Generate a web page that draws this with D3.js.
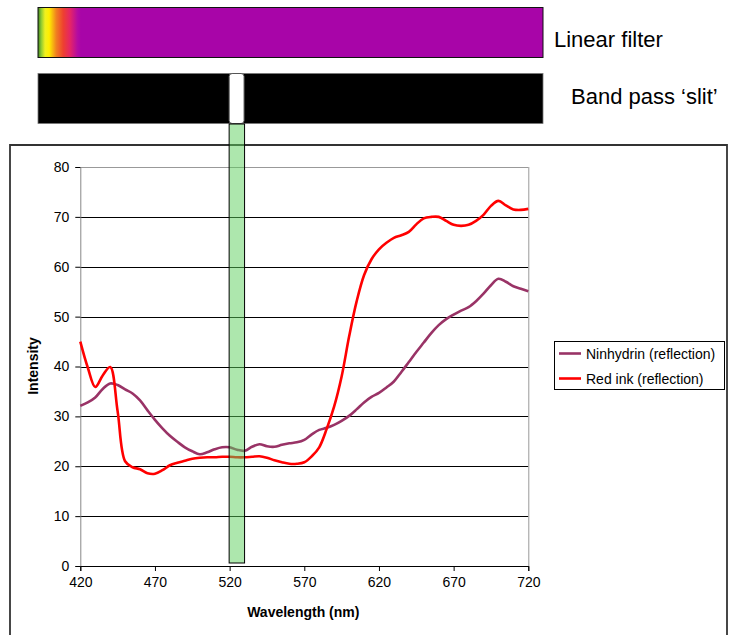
<!DOCTYPE html>
<html>
<head>
<meta charset="utf-8">
<script src="https://cdn.jsdelivr.net/npm/d3@7"></script>
<style>
  html, body { margin: 0; padding: 0; background: #fff; }
  svg { display: block; font-family: "Liberation Sans", Arial, sans-serif; }
</style>
</head>
<body>
<svg id="chart" width="746" height="635"></svg>
<script>
// ---- data ----
const wavelengths = [420,425,430,435,440,445,450,455,460,465,470,475,480,485,490,495,500,505,510,515,520,525,530,535,540,545,550,555,560,565,570,575,580,585,590,595,600,605,610,615,620,625,630,635,640,645,650,655,660,665,670,675,680,685,690,695,700,705,710,715,720];
const ninhydrin = [32.1,32.8,33.8,35.5,36.6,36.3,35.4,34.6,33.2,31.2,29.3,27.6,26.1,24.9,23.8,23.0,22.4,22.8,23.4,23.8,23.8,23.3,23.1,23.9,24.4,24.0,23.9,24.3,24.6,24.8,25.3,26.4,27.3,27.7,28.3,29.1,30.1,31.4,32.8,33.9,34.7,35.8,37.0,38.9,40.9,42.9,44.8,46.7,48.3,49.5,50.4,51.2,51.9,53.1,54.6,56.3,57.6,57.0,56.1,55.6,55.1];
const redInk = [45.0,39.8,35.9,38.2,39.9,31.0,21.0,19.8,19.4,18.6,18.5,19.2,20.2,20.7,21.1,21.5,21.7,21.8,21.8,21.9,21.9,21.8,21.8,21.9,22.0,21.7,21.2,20.8,20.5,20.5,20.8,22.0,23.8,27.5,32.0,38.0,46.0,53.0,58.3,61.5,63.5,64.8,65.8,66.3,67.0,68.5,69.7,70.0,70.0,69.2,68.4,68.2,68.4,69.2,70.4,72.2,73.2,72.3,71.5,71.4,71.6];
const seriesNames = ["Ninhydrin (reflection)", "Red ink (reflection)"];
const seriesColors = ["#993366", "#ff0000"];
const xTicks = [420,470,520,570,620,670,720];
const yTicks = [0,10,20,30,40,50,60,70,80];
const slitRange = [520, 530];   // band pass slit, nm
const filterStops = [
  [0.000, "#3f7f1f"], [0.006, "#8ac832"], [0.014, "#f0f020"], [0.022, "#ffee00"],
  [0.036, "#f08020"], [0.050, "#ee4030"], [0.064, "#e42468"], [0.078, "#b40ca0"],
  [0.085, "#a805a8"], [1.000, "#a805a8"]
];

// ---- layout ----
const svg = d3.select("#chart");
const plot = { left: 80.3, right: 528.3, top: 167, bottom: 566 };
const x = d3.scaleLinear().domain([420, 720]).range([plot.left, plot.right]);
const y = d3.scaleLinear().domain([0, 80]).range([plot.bottom, plot.top]);

// outer chart frame
svg.append("path")
  .attr("d", `M10,640 L10,145 L727,145 L727,640`)
  .attr("fill", "none").attr("stroke", "#333").attr("stroke-width", 1.8);

// linear filter bar
const defs = svg.append("defs");
const grad = defs.append("linearGradient").attr("id", "filt").attr("x1", 0).attr("x2", 1).attr("y1", 0).attr("y2", 0);
filterStops.forEach(s => grad.append("stop").attr("offset", s[0]).attr("stop-color", s[1]));
svg.append("rect").attr("x", 38).attr("y", 7.5).attr("width", 505).attr("height", 50)
  .attr("fill", "url(#filt)").attr("stroke", "#111").attr("stroke-width", 1);
svg.append("text").attr("x", 554).attr("y", 47).attr("font-size", 22).attr("fill", "#000").text("Linear filter");

// band pass slit bar
svg.append("rect").attr("x", 38).attr("y", 73.5).attr("width", 505).attr("height", 50)
  .attr("fill", "#000").attr("stroke", "#777").attr("stroke-width", 0.8);
svg.append("rect").attr("x", x(slitRange[0]) - 0.5).attr("y", 73.5)
  .attr("width", x(slitRange[1]) - x(slitRange[0])).attr("height", 50).attr("rx", 3)
  .attr("fill", "#fff").attr("stroke", "#555").attr("stroke-width", 1);
svg.append("text").attr("x", 571).attr("y", 104).attr("font-size", 22).attr("fill", "#000").text("Band pass \u2018slit\u2019");

// gridlines
svg.append("g").selectAll("line").data(yTicks.filter(d => d > 0)).join("line")
  .attr("x1", plot.left).attr("x2", plot.right)
  .attr("y1", d => Math.round(y(d)) + 0.5).attr("y2", d => Math.round(y(d)) + 0.5)
  .attr("stroke", d => d === 80 ? "#999" : "#000").attr("stroke-width", 1);
// right border of plot area
svg.append("line").attr("x1", plot.right + 0.5).attr("x2", plot.right + 0.5)
  .attr("y1", plot.top).attr("y2", plot.bottom).attr("stroke", "#999");

// axes
const yAxis = svg.append("g").attr("transform", `translate(${plot.left},0)`)
  .call(d3.axisLeft(y).tickValues(yTicks).tickSize(5).tickPadding(6));
const xAxis = svg.append("g").attr("transform", `translate(0,${plot.bottom})`)
  .call(d3.axisBottom(x).tickValues(xTicks).tickSize(5).tickPadding(6));
[yAxis, xAxis].forEach(a => {
  a.select(".domain").attr("stroke", "#000").attr("stroke-width", 1);
  a.selectAll(".tick line").attr("stroke", "#000");
  a.selectAll("text").attr("font-size", 14).attr("fill", "#000")
    .attr("font-family", "Liberation Sans, Arial, sans-serif");
});
yAxis.select(".domain").attr("stroke", "#888");

// axis titles
svg.append("text").attr("x", (plot.left + plot.right) / 2 - 1).attr("y", 617)
  .attr("text-anchor", "middle").attr("font-size", 14).attr("font-weight", "bold").text("Wavelength (nm)");
svg.append("text").attr("transform", `translate(38,366) rotate(-90)`)
  .attr("text-anchor", "middle").attr("font-size", 14).attr("font-weight", "bold").text("Intensity");

// lines
const series = [ninhydrin, redInk];
const line = d3.line().x((d, i) => x(wavelengths[i])).y(d => y(d)).curve(d3.curveCatmullRom.alpha(0.5));
series.forEach((s, k) => {
  svg.append("path").datum(s).attr("d", line)
    .attr("fill", "none").attr("stroke", seriesColors[k]).attr("stroke-width", 2.6)
    .attr("stroke-linejoin", "round");
});

// green band pass column (semi-transparent, on top)
svg.append("rect").attr("x", x(slitRange[0]) - 0.5).attr("y", 124)
  .attr("width", x(slitRange[1]) - x(slitRange[0]) + 0.5).attr("height", 439)
  .attr("fill", "rgba(92,208,92,0.5)").attr("stroke", "#000").attr("stroke-width", 1);

// legend
const lg = svg.append("g");
lg.append("rect").attr("x", 554.5).attr("y", 341.5).attr("width", 170).attr("height", 48)
  .attr("fill", "#fff").attr("stroke", "#000").attr("stroke-width", 1);
seriesNames.forEach((n, k) => {
  const yy = 353.5 + k * 25;
  lg.append("line").attr("x1", 559).attr("x2", 581).attr("y1", yy).attr("y2", yy)
    .attr("stroke", seriesColors[k]).attr("stroke-width", 2.6);
  lg.append("text").attr("x", 586).attr("y", yy + 5).attr("font-size", 14).text(n);
});
</script>
</body>
</html>
